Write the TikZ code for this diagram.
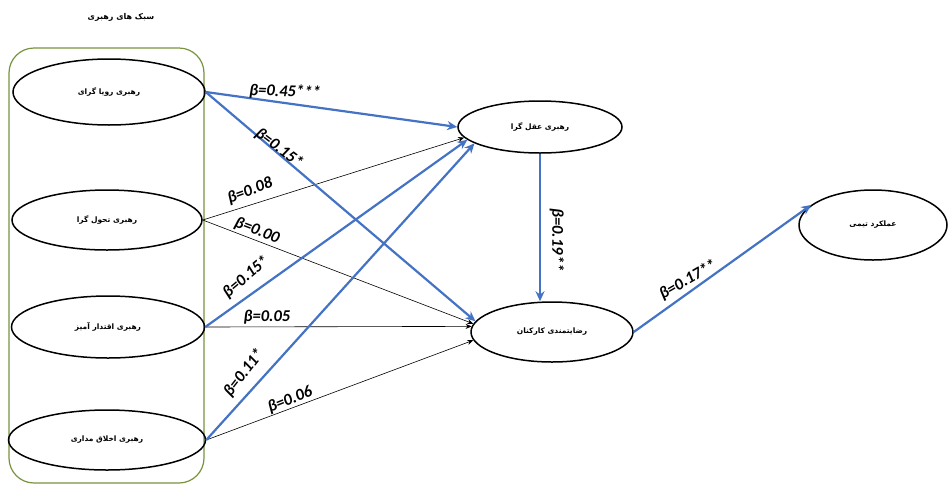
\documentclass[tikz,border=0pt]{standalone}
\usepackage{fontspec}
\usetikzlibrary{shapes.geometric,arrows.meta}
\TeXXeTstate=1
\newfontfamily\arabicfont[Script=Arabic,BoldFont={DejaVu Sans Bold}]{DejaVu Sans}
\newfontfamily\betafont{Carlito}
\definecolor{pathblue}{RGB}{68,114,196}
\definecolor{boxgreen}{RGB}{119,147,60}
\begin{document}
\begin{tikzpicture}[x=1pt,y=-1pt,
  oval/.style={ellipse,draw=black,line width=1.5pt,inner sep=0pt,font=\arabicfont\bfseries\fontsize{7.5}{9}\selectfont},
  strong/.style={draw=pathblue,line width=2.2pt,-{Stealth[length=10pt,width=9pt]}},
  weak/.style={draw=black,line width=0.6pt,-{Stealth[length=6pt,width=5pt]}},
  coef/.style={font=\betafont\bfseries\itshape\fontsize{16.5}{19}\selectfont,inner sep=1pt}
]
\useasboundingbox (0,0) rectangle (949,485);
% group box and title
\node (grp) [draw=boxgreen,line width=1.2pt,rounded corners=25pt,minimum width=195pt,minimum height=435pt,inner sep=0pt] at (106.5,265.5) {};
\node (title) [font=\arabicfont\bfseries\fontsize{8}{10}\selectfont] at (121,17) {\beginR سبک های رهبری\endR};
% left ellipses
\node (e1) [oval,minimum width=192pt,minimum height=66pt] at (109,92) {\beginR رهبری رویا گرای\endR};
\node (e2) [oval,minimum width=190pt,minimum height=60pt] at (107,220) {\beginR رهبری تحول گرا\endR};
\node (e3) [oval,minimum width=193pt,minimum height=62pt] at (108,327) {\beginR رهبری اقتدار آمیز\endR};
\node (e4) [oval,minimum width=197pt,minimum height=60pt] at (107,440) {\beginR رهبری اخلاق مداری\endR};
% right ellipses
\node (m1) [oval,minimum width=164pt,minimum height=52pt] at (540,127) {\beginR رهبری عقل گرا\endR};
\node (s) [oval,minimum width=162pt,minimum height=60pt] at (552,332) {\beginR رضایتمندی کارکنان\endR};
\node (p) [oval,minimum width=148pt,minimum height=70pt] at (873,225) {\beginR عملکرد تیمی\endR};
% connectors
\draw[weak] (e2.east) -- (m1.188);
\draw[weak] (e2.east) -- (s.174);
\draw[weak] (e3.east) -- (s.176);
\draw[weak] (e4.east) -- (s.186);
\draw[strong] (e1.east) -- (m1.west);
\draw[strong] (e1.east) -- (s.172);
\draw[strong] (e3.east) -- (m1.190);
\draw[strong] (e4.east) -- (m1.194);
\draw[strong] (m1.south) -- (m1.south |- s.north);
\draw[strong] (s.east) -- (p.162);
% coefficients
\node (c1) [coef,rotate=-2] at (285,92) {β=0.45***};
\node (c2) [coef,rotate=-37] at (279,148) {β=0.15*};
\node (c3) [coef,rotate=20] at (250,191) {β=0.08};
\node (c4) [coef,rotate=-21] at (257,231) {β=0.00};
\node (c5) [coef,rotate=40] at (246,277) {β=0.15*};
\node (c6) [coef] at (267,317) {β=0.05};
\node (c7) [coef,rotate=52] at (244,373) {β=0.11*};
\node (c8) [coef,rotate=22] at (290,400) {β=0.06};
\node (c9) [coef,rotate=-90] at (557,240) {β=0.19**};
\node (c10) [coef,rotate=30] at (688,280) {β=0.17**};
\end{tikzpicture}
\end{document}
